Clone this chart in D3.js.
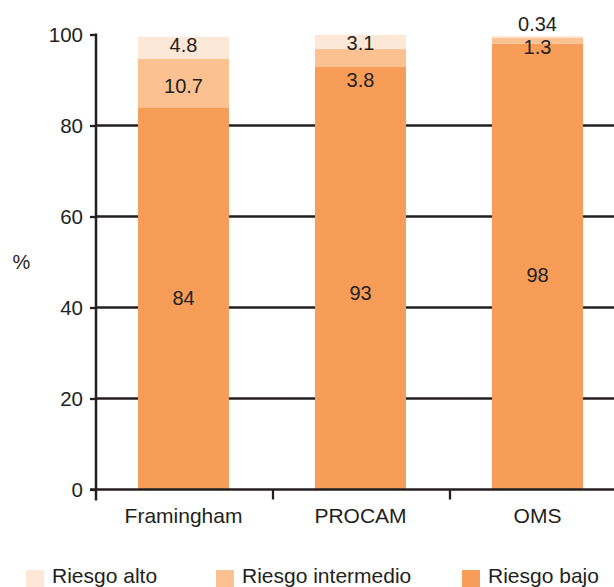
<!DOCTYPE html>
<html>
<head>
<meta charset="utf-8">
<script src="https://cdn.jsdelivr.net/npm/d3@7"></script>
<style>
  html, body { margin: 0; padding: 0; background: #fff; }
  svg { display: block; }
  text { font-family: "Liberation Sans", Arial, sans-serif; fill: #231f20; }
</style>
</head>
<body>
<svg id="chart" width="614" height="587"></svg>
<script>
// Risk categories per scoring method (percent of patients)
const methods = ["Framingham", "PROCAM", "OMS"];
const riskLow = [84, 93, 98];
const riskMid = [10.7, 3.8, 1.3];
const riskHigh = [4.8, 3.1, 0.34];
const seriesNames = ["Riesgo bajo", "Riesgo intermedio", "Riesgo alto"];
const legendOrder = ["Riesgo alto", "Riesgo intermedio", "Riesgo bajo"];
const yTicks = [0, 20, 40, 60, 80, 100];

const colors = {
  "Riesgo bajo": "#f89d58",
  "Riesgo intermedio": "#fbc191",
  "Riesgo alto": "#fde7d6"
};
const ink = "#231f20";

// Where each value label sits, in axis units (layout only)
const labelAt = {
  "Framingham": { "Riesgo bajo": 42.1, "Riesgo intermedio": 88.7, "Riesgo alto": 97.7 },
  "PROCAM":     { "Riesgo bajo": 43.1, "Riesgo intermedio": 90.1, "Riesgo alto": 98.1 },
  "OMS":        { "Riesgo bajo": 47.1, "Riesgo intermedio": 97.2, "Riesgo alto": 102.2 }
};

const rows = methods.map((m, i) => ({
  method: m,
  "Riesgo bajo": riskLow[i],
  "Riesgo intermedio": riskMid[i],
  "Riesgo alto": riskHigh[i]
}));

const svg = d3.select("#chart");
const axisX = 96, baseY = 489.5, topY = 34.5;

const x = d3.scaleBand().domain(methods).range([axisX - 1, axisX + 530])
  .paddingInner(0.486).paddingOuter(0.243);
const y = d3.scaleLinear().domain([0, 100]).range([baseY, topY]);

// horizontal grid lines (behind bars)
svg.append("g").selectAll("line")
  .data(yTicks.filter(t => t > 0 && t < 100))
  .join("line")
  .attr("x1", axisX).attr("x2", 614)
  .attr("y1", d => y(d)).attr("y2", d => y(d))
  .attr("stroke", ink).attr("stroke-width", 2.3);

// stacked bars
const stack = d3.stack().keys(seriesNames)(rows);
svg.append("g").selectAll("g")
  .data(stack)
  .join("g")
  .attr("fill", d => colors[d.key])
  .selectAll("rect")
  .data(d => d)
  .join("rect")
  .attr("x", d => x(d.data.method))
  .attr("width", x.bandwidth())
  .attr("y", d => y(d[1]))
  .attr("height", d => y(d[0]) - y(d[1]));

// value labels
const labels = [];
rows.forEach(r => seriesNames.forEach(k => labels.push({ method: r.method, key: k, v: r[k] })));
svg.append("g").selectAll("text")
  .data(labels)
  .join("text")
  .attr("x", d => x(d.method) + x.bandwidth() / 2)
  .attr("y", d => y(labelAt[d.method][d.key]))
  .attr("text-anchor", "middle")
  .attr("dominant-baseline", "central")
  .attr("font-size", 20)
  .text(d => String(d.v));

// y axis
const yAxis = svg.append("g")
  .attr("transform", `translate(${axisX},0)`)
  .call(d3.axisLeft(y).tickValues(yTicks).tickSize(6).tickPadding(7).tickSizeOuter(0));
yAxis.select(".domain").remove();
yAxis.selectAll(".tick line").attr("stroke", ink).attr("stroke-width", 2.3);
yAxis.selectAll(".tick text").attr("font-size", 20.5).attr("fill", ink)
  .attr("font-family", "'Liberation Sans', Arial, sans-serif");
svg.append("line")
  .attr("x1", axisX).attr("x2", axisX)
  .attr("y1", topY - 1).attr("y2", baseY + 11)
  .attr("stroke", ink).attr("stroke-width", 2.5);

// x axis baseline and boundary ticks
svg.append("line")
  .attr("x1", axisX - 6).attr("x2", 614)
  .attr("y1", baseY).attr("y2", baseY)
  .attr("stroke", ink).attr("stroke-width", 2.5);
svg.append("g").selectAll("line")
  .data(methods.slice(1))
  .join("line")
  .attr("x1", d => x(d) - x.step() * x.paddingInner() / 2 + 1)
  .attr("x2", d => x(d) - x.step() * x.paddingInner() / 2 + 1)
  .attr("y1", baseY).attr("y2", baseY + 10)
  .attr("stroke", ink).attr("stroke-width", 2.3);

// category labels
svg.append("g").selectAll("text")
  .data(methods)
  .join("text")
  .attr("x", d => x(d) + x.bandwidth() / 2)
  .attr("y", 522.7)
  .attr("text-anchor", "middle")
  .attr("font-size", 21)
  .text(d => d);

// y axis title
svg.append("text")
  .attr("x", 21.5).attr("y", 262)
  .attr("text-anchor", "middle")
  .attr("dominant-baseline", "central")
  .attr("font-size", 20)
  .text("%");

// legend
const legendX = [26, 216, 462];
const lg = svg.append("g").selectAll("g")
  .data(legendOrder)
  .join("g")
  .attr("transform", (d, i) => `translate(${legendX[i]},570)`);
lg.append("rect").attr("width", 18).attr("height", 18).attr("fill", d => colors[d]);
lg.append("text").attr("x", 26).attr("y", 13.3).attr("font-size", 21).text(d => d);
</script>
</body>
</html>
